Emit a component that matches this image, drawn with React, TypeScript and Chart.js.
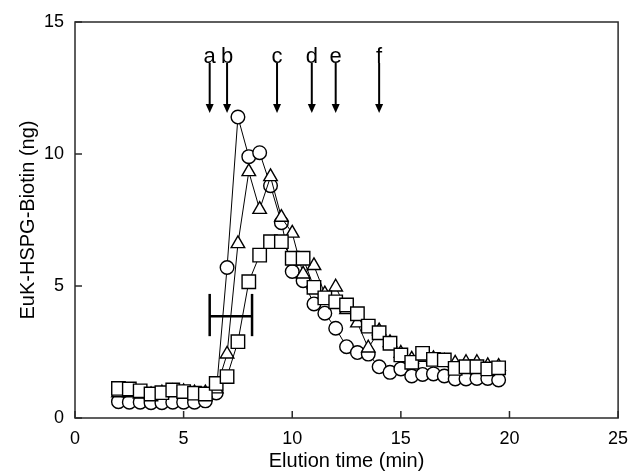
import React, { useEffect, useRef } from 'react';
import { Chart, registerables } from 'chart.js';

Chart.register(...registerables);

const times = [2, 2.5, 3, 3.5, 4, 4.5, 5, 5.5, 6, 6.5, 7, 7.5, 8, 8.5, 9, 9.5, 10, 10.5, 11, 11.5, 12, 12.5, 13, 13.5, 14, 14.5, 15, 15.5, 16, 16.5, 17, 17.5, 18, 18.5, 19, 19.5];
const circleValues = [0.62, 0.6, 0.6, 0.58, 0.58, 0.6, 0.6, 0.6, 0.65, 0.95, 5.7, 11.4, 9.9, 10.05, 8.8, 7.4, 5.55, 5.2, 4.32, 3.97, 3.4, 2.7, 2.48, 2.42, 1.94, 1.73, 1.86, 1.59, 1.65, 1.67, 1.59, 1.48, 1.48, 1.5, 1.5, 1.44];
const triangleValues = [0.95, 0.95, 0.9, 0.88, 0.95, 1.0, 1.0, 0.95, 0.95, 1.1, 2.42, 6.6, 9.33, 7.9, 9.14, 7.6, 7.0, 5.45, 5.77, 4.7, 4.96, 4.1, 3.6, 2.65, 3.3, 2.85, 2.45, 2.23, 2.3, 2.25, 2.15, 2.08, 2.1, 2.1, 1.98, 1.95];
const squareValues = [1.12, 1.1, 1.03, 0.91, 0.96, 1.06, 1.0, 0.94, 0.91, 1.31, 1.57, 2.89, 5.16, 6.17, 6.68, 6.68, 6.05, 6.05, 4.95, 4.55, 4.4, 4.28, 3.95, 3.48, 3.23, 2.83, 2.39, 2.11, 2.45, 2.22, 2.2, 1.88, 1.94, 1.94, 1.86, 1.9];

const xTicks = [0, 5, 10, 15, 20, 25];
const yTicks = [0, 5, 10, 15];

const arrowLabels = ['a', 'b', 'c', 'd', 'e', 'f'];
const arrowTimes = [6.2, 7.0, 9.3, 10.9, 12.0, 14.0];
const arrowTopValue = 13.45;
const arrowTipValue = 11.55;
const arrowLabelValue = 13.75;

const barRange = [6.2, 8.15];
const barLevel = 3.85;
const capRange = [3.1, 4.7];

const FONT = "'Liberation Sans', Arial, Helvetica, sans-serif";

export default function App() {
  const ref = useRef<HTMLCanvasElement | null>(null);

  useEffect(() => {
    if (!ref.current) return;
    const mk = (vals: number[]) => times.map((t, i) => ({ x: t, y: vals[i] }));

    const framePlugin = {
      id: 'frame',
      afterDatasetsDraw(chart: any) {
        const { ctx, chartArea: a, scales } = chart;
        const xs = scales.x;
        const ys = scales.y;
        ctx.save();
        ctx.strokeStyle = '#2a2a2a';
        ctx.lineWidth = 1.5;
        ctx.strokeRect(a.left, a.top, a.right - a.left, a.bottom - a.top);
        ctx.beginPath();
        xTicks.forEach((v) => {
          const px = xs.getPixelForValue(v);
          ctx.moveTo(px, a.bottom);
          ctx.lineTo(px, a.bottom - 7);
        });
        yTicks.forEach((v) => {
          const py = ys.getPixelForValue(v);
          ctx.moveTo(a.left, py);
          ctx.lineTo(a.left + 7, py);
        });
        ctx.stroke();

        // arrows
        ctx.strokeStyle = '#000';
        ctx.fillStyle = '#000';
        ctx.lineWidth = 2;
        ctx.font = `22px ${FONT}`;
        ctx.textAlign = 'center';
        ctx.textBaseline = 'alphabetic';
        arrowTimes.forEach((t, i) => {
          const px = xs.getPixelForValue(t);
          const y0 = ys.getPixelForValue(arrowTopValue);
          const y1 = ys.getPixelForValue(arrowTipValue);
          ctx.beginPath();
          ctx.moveTo(px, y0);
          ctx.lineTo(px, y1 - 6);
          ctx.stroke();
          ctx.beginPath();
          ctx.moveTo(px - 4, y1 - 9);
          ctx.lineTo(px + 4, y1 - 9);
          ctx.lineTo(px, y1);
          ctx.closePath();
          ctx.fill();
          ctx.fillText(arrowLabels[i], px, ys.getPixelForValue(arrowLabelValue) + 8);
        });
        ctx.restore();
      },
    };

    const chart = new Chart(ref.current, {
      type: 'line',
      data: {
        datasets: [
          {
            label: 'bar',
            data: [{ x: barRange[0], y: barLevel }, { x: barRange[1], y: barLevel }],
            borderColor: '#000',
            borderWidth: 2.5,
            pointRadius: 0,
            showLine: true,
          },
          {
            label: 'capL',
            data: [{ x: barRange[0], y: capRange[0] }, { x: barRange[0], y: capRange[1] }],
            borderColor: '#000',
            borderWidth: 2.5,
            pointRadius: 0,
            showLine: true,
          },
          {
            label: 'capR',
            data: [{ x: barRange[1], y: capRange[0] }, { x: barRange[1], y: capRange[1] }],
            borderColor: '#000',
            borderWidth: 2.5,
            pointRadius: 0,
            showLine: true,
          },
          {
            label: 'squares',
            data: mk(squareValues),
            borderColor: '#000',
            borderWidth: 1,
            pointStyle: 'rect',
            pointRadius: 9.5,
            pointBorderWidth: 1.4,
            pointBackgroundColor: '#fff',
            pointBorderColor: '#000',
            tension: 0,
          },
          {
            label: 'triangles',
            data: mk(triangleValues),
            borderColor: '#000',
            borderWidth: 1,
            pointStyle: 'triangle',
            pointRadius: 7.8,
            pointBorderWidth: 1.4,
            pointBackgroundColor: '#fff',
            pointBorderColor: '#000',
            tension: 0,
          },
          {
            label: 'circles',
            data: mk(circleValues),
            borderColor: '#000',
            borderWidth: 1,
            pointStyle: 'circle',
            pointRadius: 6.8,
            pointBorderWidth: 1.4,
            pointBackgroundColor: '#fff',
            pointBorderColor: '#000',
            tension: 0,
          },
        ],
      },
      options: {
        animation: false,
        responsive: false,
        maintainAspectRatio: false,
        events: [],
        layout: { padding: { left: 0, right: 10, top: 22, bottom: 0 } },
        plugins: {
          legend: { display: false },
          tooltip: { enabled: false },
        },
        scales: {
          x: {
            type: 'linear',
            min: 0,
            max: 25,
            afterFit: (s: any) => {
              s.height = 58;
              s.paddingLeft = 0;
              s.paddingRight = 0;
            },
            afterBuildTicks: (s: any) => { s.ticks = xTicks.map((v) => ({ value: v })); },
            grid: { display: false, drawTicks: false },
            border: { display: false },
            ticks: {
              color: '#000',
              padding: 10,
              font: { family: FONT, size: 18 },
              maxRotation: 0,
            },
            title: {
              display: true,
              text: 'Elution time (min)',
              color: '#000',
              font: { family: FONT, size: 20 },
              padding: { top: 0, bottom: 3 },
            },
          },
          y: {
            type: 'linear',
            min: 0,
            max: 15,
            afterFit: (s: any) => {
              s.width = 75;
              s.paddingTop = 0;
              s.paddingBottom = 0;
            },
            afterBuildTicks: (s: any) => { s.ticks = yTicks.map((v) => ({ value: v })); },
            grid: { display: false, drawTicks: false },
            border: { display: false },
            ticks: {
              color: '#000',
              padding: 11,
              font: { family: FONT, size: 18 },
            },
            title: {
              display: true,
              text: 'EuK-HSPG-Biotin (ng)',
              color: '#000',
              font: { family: FONT, size: 20 },
              padding: { top: 16, bottom: 0 },
            },
          },
        },
      },
      plugins: [framePlugin],
    } as any);

    return () => chart.destroy();
  }, []);

  return (
    <div style={{ position: 'fixed', left: 0, top: 0, width: 629, height: 476, background: '#fff' }}>
      <canvas ref={ref} width={629} height={476} style={{ width: 629, height: 476, display: 'block' }} />
    </div>
  );
}
